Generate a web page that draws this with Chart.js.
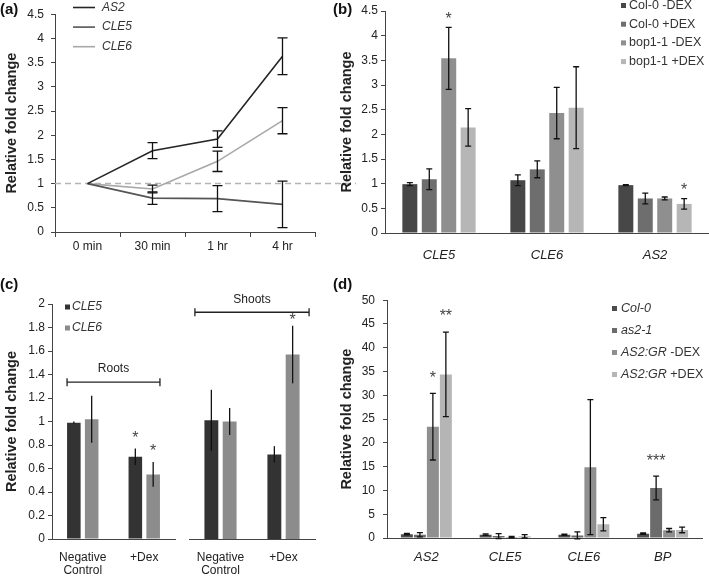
<!DOCTYPE html>
<html lang="en">
<head>
<meta charset="UTF-8" />
<title>Relative fold change</title>
<style>
  body { margin: 0; background: #fff; width: 709px; height: 576px; position: relative; overflow: hidden;
         font-family: 'Liberation Sans', Arial, sans-serif; }
  canvas { position: absolute; }
  .tag { position: absolute; font-weight: bold; font-size: 15px; color: #111; line-height: 17px; }
</style>
</head>
<body>
<canvas id="chartA" width="360" height="285" style="left:0;top:0"></canvas>
<canvas id="chartB" width="374" height="285" style="left:335px;top:0"></canvas>
<canvas id="chartC1" width="180" height="291" style="left:0;top:285px"></canvas>
<canvas id="chartC2" width="180" height="291" style="left:180px;top:285px"></canvas>
<canvas id="chartD" width="374" height="291" style="left:335px;top:285px"></canvas>
<div class="tag" style="left:0;top:0">(a)</div>
<div class="tag" style="left:333px;top:0">(b)</div>
<div class="tag" style="left:0;top:275px">(c)</div>
<div class="tag" style="left:333px;top:275px">(d)</div>
<script src="https://cdn.jsdelivr.net/npm/chart.js"></script>
<script>
// (a) time course
const aTimes = ['0 min', '30 min', '1 hr', '4 hr'];
const aGenes = ['<i>AS2</i>', '<i>CLE5</i>', '<i>CLE6</i>'];
const aAS2 = [1, 1.68, 1.92, 3.63];
const aAS2Err = [0, 0.165, 0.17, 0.38];
const aCLE5 = [1, 0.70, 0.69, 0.57];
const aCLE5Err = [0, 0.13, 0.27, 0.48];
const aCLE6 = [1, 0.89, 1.46, 2.30];
const aCLE6Err = [0, 0.08, 0.21, 0.27];
const aYTicks = ['0', '0.5', '1', '1.5', '2', '2.5', '3', '3.5', '4', '4.5'];

// (b) bop1-1
const bGenes = ['CLE5', 'CLE6', 'AS2'];
const bSeries = ['Col-0 -DEX', 'Col-0 +DEX', 'bop1-1 -DEX', 'bop1-1 +DEX'];
const bValues = [[0.99, 1.07, 0.97], [1.09, 1.29, 0.70], [3.54, 2.43, 0.70], [2.14, 2.54, 0.59]];
const bErrors = [[0.03, 0.11, 0.01], [0.21, 0.17, 0.11], [0.63, 0.52, 0.03], [0.38, 0.83, 0.105]];
const bStars = [['', '', ''], ['', '', ''], ['*', '', ''], ['', '', '*']];
const bYTicks = ['0', '0.5', '1', '1.5', '2', '2.5', '3', '3.5', '4', '4.5'];

// (c) roots / shoots
const cGroups = [['Negative', 'Control'], '+Dex'];
const cSeries = ['<i>CLE5</i>', '<i>CLE6</i>'];
const cRoots = [[0.99, 0.70], [1.02, 0.55]];
const cRootsErr = [[0.01, 0.07], [0.20, 0.105]];
const cRootsStars = [['', '*'], ['', '*']];
const cShoots = [[1.01, 0.72], [1.00, 1.57]];
const cShootsErr = [[0.26, 0.07], [0.115, 0.245]];
const cShootsStars = [['', ''], ['', '*']];
const cYTicks = ['0', '0.2', '0.4', '0.6', '0.8', '1', '1.2', '1.4', '1.6', '1.8', '2'];

// (d) as2-1 / AS2:GR
const dGenes = ['AS2', 'CLE5', 'CLE6', 'BP'];
const dSeries = ['<i>Col-0</i>', '<i>as2-1</i>', '<i>AS2:GR</i> -DEX', '<i>AS2:GR</i> +DEX'];
const dValues = [[0.8, 0.7, 0.7, 0.9], [0.7, 0.4, 0.55, 10.5], [23.4, 0.2, 14.9, 1.65], [34.4, 0.35, 2.9, 1.7]];
const dErrors = [[0.15, 0.15, 0.12, 0.15], [0.45, 0.5, 0.75, 2.5], [7.0, 0.15, 14.2, 0.35], [8.9, 0.35, 1.4, 0.6]];
const dStars = [['', '', '', ''], ['', '', '', '***'], ['*', '', '', ''], ['**', '', '', '']];
const dYTicks = ['0', '5', '10', '15', '20', '25', '30', '35', '40', '45', '50'];

const FAMILY = "'Liberation Sans', Arial, sans-serif";
Chart.defaults.font.family = FAMILY;
Chart.defaults.font.size = 12;
Chart.defaults.color = '#222';
Chart.defaults.animation = false;
Chart.defaults.plugins.legend.display = false;
Chart.defaults.plugins.tooltip.enabled = false;

const AXIS = '#444';

// error bars + significance stars
const errorBars = {
  id: 'errorBars',
  afterDatasetsDraw(chart, args, o) {
    const ctx = chart.ctx, y = chart.scales.y;
    chart.data.datasets.forEach((ds, i) => {
      if (!ds.errors) return;
      const meta = chart.getDatasetMeta(i);
      meta.data.forEach((el, j) => {
        const e = ds.errors[j], v = ds.data[j];
        const top = y.getPixelForValue(v + e), bot = y.getPixelForValue(v - e);
        if (e) {
          ctx.save();
          ctx.strokeStyle = '#111';
          ctx.lineWidth = 1.3;
          ctx.beginPath();
          ctx.moveTo(el.x, top); ctx.lineTo(el.x, bot);
          if (o.cap) {
            ctx.moveTo(el.x - o.cap, top); ctx.lineTo(el.x + o.cap, top);
            ctx.moveTo(el.x - o.cap, bot); ctx.lineTo(el.x + o.cap, bot);
          }
          ctx.stroke();
          ctx.restore();
        }
        if (ds.stars && ds.stars[j]) {
          ctx.save();
          ctx.fillStyle = '#444';
          ctx.font = '16px ' + FAMILY;
          ctx.textAlign = 'center';
          ctx.textBaseline = 'middle';
          ctx.fillText(ds.stars[j], el.x, top - (o.starGap || 10) + 4);
          ctx.restore();
        }
      });
    });
  }
};

// legend drawn inside the panel
const keyBox = {
  id: 'keyBox',
  afterDraw(chart, args, o) {
    if (o.x == null) return;
    const ctx = chart.ctx;
    chart.data.datasets.forEach((ds, i) => {
      const y = o.y + i * o.gap;
      ctx.save();
      if (o.line) {
        ctx.strokeStyle = ds.borderColor;
        ctx.lineWidth = 1.6;
        ctx.beginPath(); ctx.moveTo(o.x, y); ctx.lineTo(o.x + o.line, y); ctx.stroke();
      } else {
        ctx.fillStyle = ds.backgroundColor;
        ctx.fillRect(o.x, y - 2.5, 5, 5);
      }
      ctx.fillStyle = '#333';
      ctx.textBaseline = 'middle';
      let x = o.x + o.dx;
      ds.label.split(/(<i>.*?<\/i>)/).filter(Boolean).forEach(part => {
        const it = part.startsWith('<i>');
        const t = part.replace(/<\/?i>/g, '');
        ctx.font = (it ? 'italic ' : '') + o.size + 'px ' + FAMILY;
        ctx.fillText(t, x, y);
        x += ctx.measureText(t).width;
      });
      ctx.restore();
    });
  }
};

// dashed reference line at 1 (panel a)
const refLine = {
  id: 'refLine',
  beforeDatasetsDraw(chart, args, o) {
    if (o.value == null) return;
    const ctx = chart.ctx, y = chart.scales.y.getPixelForValue(o.value);
    ctx.save();
    ctx.strokeStyle = '#b4b4b4';
    ctx.lineWidth = 1.5;
    ctx.setLineDash([6, 4]);
    ctx.beginPath(); ctx.moveTo(chart.chartArea.left, y); ctx.lineTo(o.right, y); ctx.stroke();
    ctx.restore();
  }
};

// Roots / Shoots bracket (panel c)
const bracket = {
  id: 'bracket',
  afterDraw(chart, args, o) {
    if (!o.text) return;
    const ctx = chart.ctx, y = chart.scales.y.getPixelForValue(o.value);
    const n = chart.data.datasets.length;
    const first = chart.getDatasetMeta(0).data[0];
    const last = chart.getDatasetMeta(n - 1).data.at(-1);
    const x0 = first.x - first.width / 2 - o.ext, x1 = last.x + last.width / 2 + o.ext;
    ctx.save();
    ctx.strokeStyle = '#222';
    ctx.lineWidth = 1.3;
    ctx.beginPath();
    ctx.moveTo(x0, y); ctx.lineTo(x1, y);
    ctx.moveTo(x0, y - 4); ctx.lineTo(x0, y + 4);
    ctx.moveTo(x1, y - 4); ctx.lineTo(x1, y + 4);
    ctx.stroke();
    ctx.fillStyle = '#222';
    ctx.font = '12px ' + FAMILY;
    ctx.textAlign = 'center';
    ctx.textBaseline = 'middle';
    ctx.fillText(o.text, (x0 + x1) / 2, y - 13);
    ctx.restore();
  }
};

Chart.register(errorBars, keyBox, refLine, bracket);

function yAxis(max, step, labels, width, pad, show = true) {
  return {
    display: show,
    min: 0, max,
    ticks: { stepSize: step, padding: pad, callback: (v, i) => labels[i] },
    grid: { drawOnChartArea: false, tickLength: 4, color: AXIS },
    border: { color: AXIS },
    title: { display: true, text: 'Relative fold change', color: '#222',
             font: { size: 14.5, weight: 'bold' }, padding: { top: 3, bottom: 0 } },
    afterFit: s => { s.width = width; }
  };
}

function xAxis(height, font, pad) {
  return {
    ticks: { font, padding: pad, maxRotation: 0, autoSkip: false },
    grid: { display: false },
    border: { color: AXIS },
    afterFit: s => { s.height = height; }
  };
}

// (a)
new Chart(document.getElementById('chartA'), {
  type: 'line',
  data: {
    labels: aTimes,
    datasets: [
      { label: aGenes[0], data: aAS2, errors: aAS2Err, borderColor: '#262626' },
      { label: aGenes[1], data: aCLE5, errors: aCLE5Err, borderColor: '#555555' },
      { label: aGenes[2], data: aCLE6, errors: aCLE6Err, borderColor: '#a8a8a8' }
    ].map(d => Object.assign(d, { borderWidth: 1.6, pointRadius: 0, fill: false, tension: 0 }))
  },
  options: {
    responsive: false, devicePixelRatio: 1,
    layout: { padding: { left: 0, top: 7, right: 45, bottom: 23 } },
    scales: {
      x: {
        offset: true,
        ticks: { padding: 2, maxRotation: 0 },
        grid: { offset: true, drawOnChartArea: false, tickLength: 5, color: AXIS },
        border: { color: AXIS },
        afterFit: s => { s.height = 30; }
      },
      y: yAxis(4.5, 0.5, aYTicks, 55, 7)
    },
    plugins: {
      errorBars: { cap: 5 },
      keyBox: { x: 73, y: 7.5, gap: 19.6, line: 22, dx: 29, size: 12 },
      refLine: { value: 1, right: 356 }
    }
  }
});

// (b)
const bShades = ['#474747', '#6e6e6e', '#8f8f8f', '#b6b6b6'];
new Chart(document.getElementById('chartB'), {
  type: 'bar',
  data: {
    labels: bGenes,
    datasets: bSeries.map((s, i) => ({
      label: s, data: bValues[i], errors: bErrors[i], stars: bStars[i],
      backgroundColor: bShades[i], categoryPercentage: 0.72, barPercentage: 0.77
    }))
  },
  options: {
    responsive: false, devicePixelRatio: 1,
    layout: { padding: { left: 0, top: 11, right: 0, bottom: 12 } },
    scales: {
      x: xAxis(40, { size: 13, style: 'italic' }, 7),
      y: yAxis(4.5, 0.5, bYTicks, 50, 3)
    },
    plugins: {
      errorBars: { cap: 3, starGap: 12 },
      keyBox: { x: 286, y: 5.5, gap: 18.7, dx: 8, size: 12.5 }
    }
  }
});

// (c) roots
const cShades = ['#333333', '#8c8c8c'];
new Chart(document.getElementById('chartC1'), {
  type: 'bar',
  data: {
    labels: cGroups,
    datasets: cSeries.map((s, i) => ({
      label: s, data: cRoots[i], errors: cRootsErr[i], stars: cRootsStars[i],
      backgroundColor: cShades[i], categoryPercentage: 0.58, barPercentage: 0.76
    }))
  },
  options: {
    responsive: false, devicePixelRatio: 1,
    layout: { padding: { left: 0, top: 19, right: 5, bottom: 0 } },
    scales: {
      x: xAxis(37, { size: 12, lineHeight: 1.1 }, 4),
      y: yAxis(2, 0.2, cYTicks, 52, 3)
    },
    plugins: {
      errorBars: { cap: 0, starGap: 14 },
      keyBox: { x: 65, y: 22, gap: 21, dx: 7, size: 12 },
      bracket: { text: 'Roots', value: 1.335, ext: 0 }
    }
  }
});

// (c) shoots
new Chart(document.getElementById('chartC2'), {
  type: 'bar',
  data: {
    labels: cGroups,
    datasets: cSeries.map((s, i) => ({
      label: s, data: cShoots[i], errors: cShootsErr[i], stars: cShootsStars[i],
      backgroundColor: cShades[i], categoryPercentage: 0.58, barPercentage: 0.76
    }))
  },
  options: {
    responsive: false, devicePixelRatio: 1,
    layout: { padding: { left: 9, top: 19, right: 45, bottom: 0 } },
    scales: {
      x: xAxis(37, { size: 12, lineHeight: 1.1 }, 4),
      y: yAxis(2, 0.2, cYTicks, 0, 3, false)
    },
    plugins: {
      errorBars: { cap: 0, starGap: 9 },
      bracket: { text: 'Shoots', value: 1.93, ext: 9.5 }
    }
  }
});

// (d)
const dShades = ['#4d4d4d', '#6b6b6b', '#8f8f8f', '#b5b5b5'];
new Chart(document.getElementById('chartD'), {
  type: 'bar',
  data: {
    labels: dGenes,
    datasets: dSeries.map((s, i) => ({
      label: s, data: dValues[i], errors: dErrors[i], stars: dStars[i],
      backgroundColor: dShades[i], categoryPercentage: 0.66, barPercentage: 0.92
    }))
  },
  options: {
    responsive: false, devicePixelRatio: 1,
    layout: { padding: { left: 0, top: 12, right: 7, bottom: 0 } },
    scales: {
      x: xAxis(38, { size: 13, style: 'italic' }, 4),
      y: yAxis(50, 5, dYTicks, 52, 8)
    },
    plugins: {
      errorBars: { cap: 3, starGap: 19 },
      keyBox: { x: 277, y: 23.5, gap: 22, dx: 9, size: 12.5 }
    }
  }
});
</script>
</body>
</html>
